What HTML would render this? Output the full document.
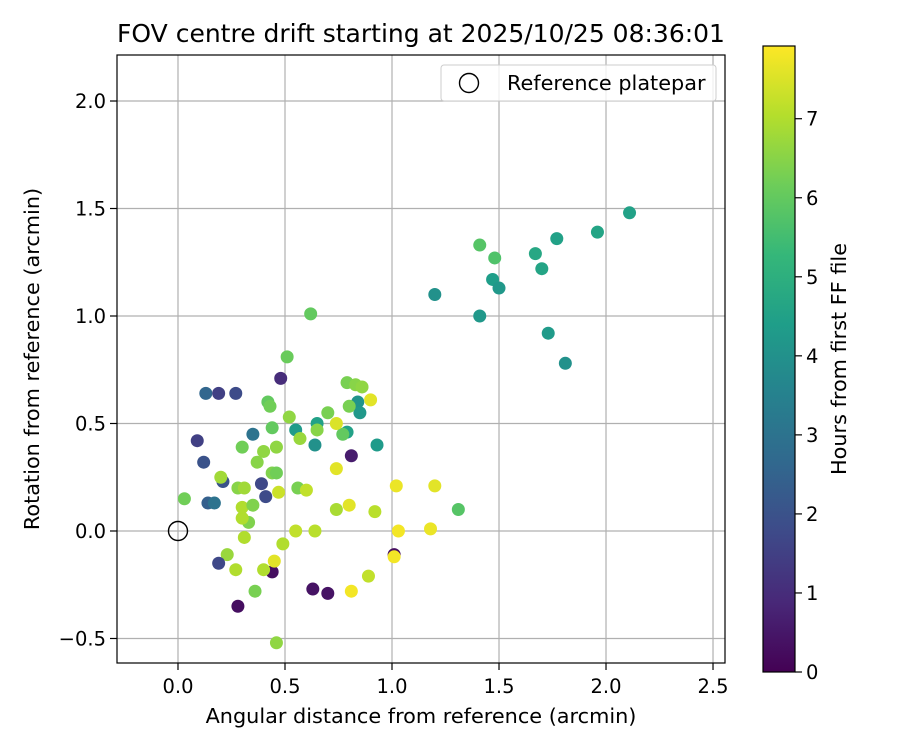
<!DOCTYPE html>
<html><head><meta charset="utf-8"><style>
body{margin:0;background:#fff;}
svg text{font-family:"DejaVu Sans","Liberation Sans",sans-serif;fill:#000;}
</style></head><body>
<svg id="chart" width="900" height="750" xmlns="http://www.w3.org/2000/svg"></svg>
<script>
const xs=[2.11,1.96,1.77,1.67,1.70,1.41,1.48,1.47,1.50,1.20,1.41,1.73,1.81,1.31,0.93,0.84,0.85,0.79,0.83,0.86,0.90,0.80,0.79,0.77,0.70,0.74,0.74,0.81,0.62,0.51,0.48,0.52,0.55,0.57,0.65,0.65,0.64,0.42,0.43,0.44,0.46,0.44,0.46,0.47,0.56,0.60,0.74,0.80,0.92,1.02,1.20,1.18,1.03,1.01,1.01,0.89,0.81,0.70,0.63,0.64,0.55,0.49,0.44,0.45,0.46,0.36,0.40,0.28,0.27,0.23,0.19,0.31,0.33,0.30,0.30,0.35,0.28,0.31,0.41,0.39,0.40,0.37,0.30,0.35,0.21,0.20,0.12,0.09,0.13,0.19,0.27,0.14,0.17,0.03];
const ys=[1.48,1.39,1.36,1.29,1.22,1.33,1.27,1.17,1.13,1.10,1.00,0.92,0.78,0.10,0.40,0.60,0.55,0.69,0.68,0.67,0.61,0.58,0.46,0.45,0.55,0.50,0.29,0.35,1.01,0.81,0.71,0.53,0.47,0.43,0.50,0.47,0.40,0.60,0.58,0.48,0.39,0.27,0.27,0.18,0.20,0.19,0.10,0.12,0.09,0.21,0.21,0.01,0.00,-0.11,-0.12,-0.21,-0.28,-0.29,-0.27,0.00,0.00,-0.06,-0.19,-0.14,-0.52,-0.28,-0.18,-0.35,-0.18,-0.11,-0.15,-0.03,0.04,0.06,0.11,0.12,0.20,0.20,0.16,0.22,0.37,0.32,0.39,0.45,0.23,0.25,0.32,0.42,0.64,0.64,0.64,0.13,0.13,0.15];
const hours=[4.5,4.6,4.5,4.7,4.6,5.8,5.7,4.4,4.2,4.0,4.2,4.3,4.0,5.8,4.3,4.1,4.2,6.3,6.5,6.6,7.6,6.3,4.5,6.0,6.3,7.5,7.6,0.6,6.0,6.1,1.0,6.6,4.3,6.7,4.5,6.5,4.0,6.0,6.2,6.0,6.6,6.4,6.2,7.3,6.3,7.2,6.9,7.6,7.1,7.7,7.6,7.7,7.8,0.3,7.8,7.2,7.8,0.4,0.4,7.1,7.2,7.0,0.3,7.6,6.6,6.3,7.0,0.3,7.0,6.7,1.7,7.0,6.4,7.0,7.0,6.4,6.5,6.8,1.8,1.7,6.6,6.5,6.2,3.0,2.0,6.8,2.0,1.5,2.6,1.5,1.8,2.4,3.0,6.2];
const xTicks=[0,0.5,1,1.5,2,2.5];
const xTickLabels=["0.0","0.5","1.0","1.5","2.0","2.5"];
const yTicks=[-0.5,0,0.5,1,1.5,2];
const yTickLabels=["\u22120.5","0.0","0.5","1.0","1.5","2.0"];
const cTicks=[0,1,2,3,4,5,6,7];
const HMAX=7.92;

const L=117,R=725,T=55,B=663;
const XMIN=-0.285,XMAX=2.556,YMIN=-0.614,YMAX=2.214;
const sx=v=>L+(v-XMIN)/(XMAX-XMIN)*(R-L);
const sy=v=>B-(v-YMIN)/(YMAX-YMIN)*(B-T);
const CL=763,CR=795,CT=46,CB=672;
const sc=v=>CB-v/HMAX*(CB-CT);
const vir=[[68,1,84],[72,40,120],[62,74,137],[49,104,142],[38,130,142],[31,158,137],[53,183,121],[109,205,89],[180,222,44],[253,231,37]];
function cmap(h){let t=Math.max(0,Math.min(1,h/HMAX))*(vir.length-1);let i=Math.min(Math.floor(t),vir.length-2),f=t-i;const c=vir[i].map((a,k)=>Math.round(a+(vir[i+1][k]-a)*f));return `rgb(${c})`;}
const svg=document.getElementById('chart');const NS="http://www.w3.org/2000/svg";
function mk(tag,attrs,parent){const e=document.createElementNS(NS,tag);for(const k in attrs)e.setAttribute(k,attrs[k]);(parent||svg).appendChild(e);return e;}
function txt(s,attrs){const e=mk('text',attrs);e.textContent=s;return e;}

xTicks.forEach((v,i)=>{const x=sx(v);
const g=mk('line',{x1:x,x2:x,y1:T,y2:B,stroke:'#b0b0b0','stroke-width':1.2});

mk('line',{x1:x,x2:x,y1:B,y2:B+7,stroke:'#000','stroke-width':1.2});
const t=txt(xTickLabels[i],{x:x,y:B+30,'font-size':19.5,'text-anchor':'middle'});
});
yTicks.forEach((v,i)=>{const y=sy(v);
const g=mk('line',{x1:L,x2:R,y1:y,y2:y,stroke:'#b0b0b0','stroke-width':1.2});

mk('line',{x1:L-7,x2:L,y1:y,y2:y,stroke:'#000','stroke-width':1.2});
const t=txt(yTickLabels[i],{x:L-11,y:y+7,'font-size':19.5,'text-anchor':'end'});
});

const ref=mk('circle',{cx:sx(0),cy:sy(0),r:9.5,fill:'none',stroke:'#000','stroke-width':1.4});


xs.forEach((x,i)=>{const c=mk('circle',{cx:sx(x),cy:sy(ys[i]),r:6.5,fill:cmap(hours[i])});
});

const fr=mk('rect',{x:L,y:T,width:R-L,height:B-T,fill:'none',stroke:'#000','stroke-width':1.2});


const lg=mk('rect',{x:441,y:65,width:275,height:36,rx:3,fill:'#fff','fill-opacity':0.8,stroke:'#ccc'});

const lc=mk('circle',{cx:469,cy:83,r:9.5,fill:'none',stroke:'#000','stroke-width':1.4});

const lt=txt('Reference platepar',{x:507,y:90,'font-size':20.8});


const ti=txt('FOV centre drift starting at 2025/10/25 08:36:01',{x:421,y:42,'font-size':25,'text-anchor':'middle'});

const xt=txt('Angular distance from reference (arcmin)',{x:421,y:723,'font-size':20.8,'text-anchor':'middle'});

const yt=txt('Rotation from reference (arcmin)',{x:0,y:0,'font-size':20.8,'text-anchor':'middle',transform:`translate(39,359) rotate(-90)`});


const defs=mk('defs',{});const gr=mk('linearGradient',{id:'vg',x1:0,y1:1,x2:0,y2:0},defs);
vir.forEach((c,i)=>mk('stop',{offset:i/(vir.length-1),'stop-color':`rgb(${c})`},gr));
const cb=mk('rect',{x:CL,y:CT,width:CR-CL,height:CB-CT,fill:'url(#vg)',stroke:'#000','stroke-width':1.2});

cTicks.forEach(v=>{const y=sc(v);mk('line',{x1:CR,x2:CR+7,y1:y,y2:y,stroke:'#000','stroke-width':1.2});
const t=txt(String(v),{x:CR+11,y:y+7,'font-size':19.5});
});
const ct=txt('Hours from first FF file',{x:0,y:0,'font-size':20.8,'text-anchor':'middle',transform:`translate(846,359) rotate(-90)`});

</script>
</body></html>
